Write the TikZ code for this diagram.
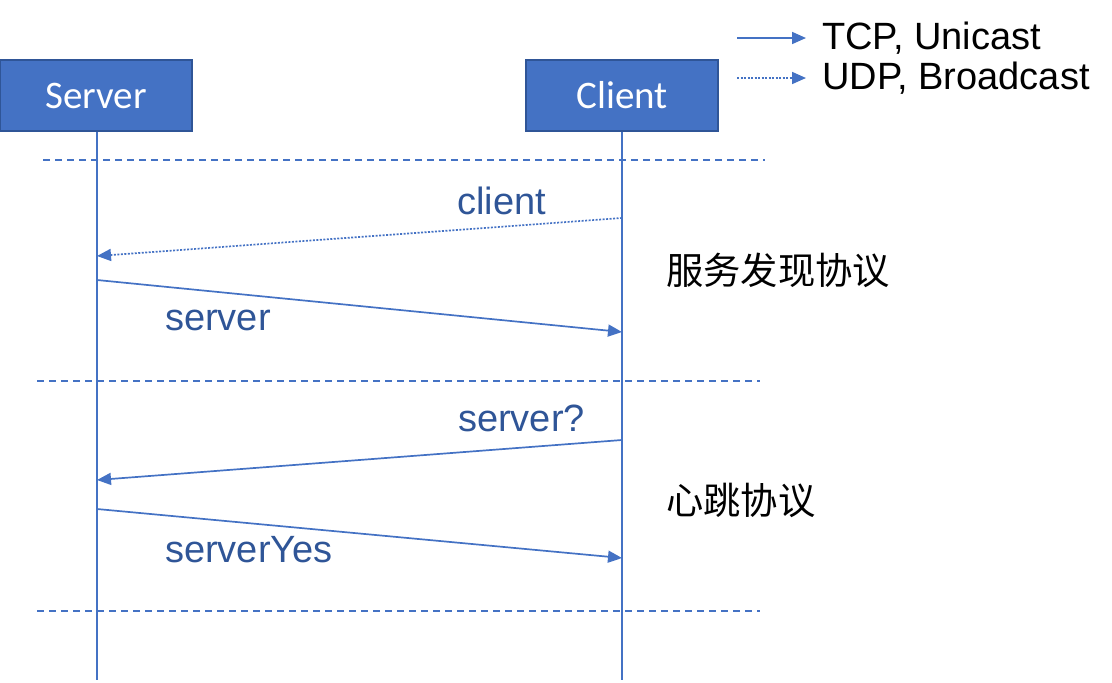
\documentclass[tikz,border=0pt]{standalone}
\usepackage{fontspec}
\setmainfont{Liberation Sans}
\newfontfamily\boxfont{Carlito}
\newfontfamily\cjk{Noto Sans CJK SC}
\usetikzlibrary{arrows.meta}
\definecolor{lineblue}{HTML}{4472C4}
\definecolor{darkblue}{HTML}{2F5597}
\begin{document}
\begin{tikzpicture}[x=1pt,y=-1pt,
  actor/.style={draw=darkblue,line width=1.5pt,fill=lineblue,minimum width=192pt,minimum height=71pt,inner sep=0pt,text=white,font=\boxfont\fontsize{39}{42}\selectfont},
  life/.style={draw=lineblue,line width=2pt},
  sep/.style={draw=lineblue,line width=1.3pt,dash pattern=on 7pt off 5pt},
  msg/.style={draw=lineblue,line width=1.7pt,-{Triangle[length=14pt,width=12pt]}},
  bmsg/.style={msg,dash pattern=on 2pt off 1.5pt},
  lbl/.style={anchor=base west,inner sep=0pt,text=darkblue,font=\fontsize{38}{42}\selectfont},
  note/.style={anchor=base west,inner sep=0pt,text=black,font=\cjk\fontsize{37.3}{42}\selectfont},
  legtxt/.style={anchor=base west,inner sep=0pt,text=black,font=\fontsize{38}{42}\selectfont}]
\useasboundingbox (0,0) rectangle (1112,683);
% actors
\node[actor] (server) at (96,95.5) {Server};
\node[actor] (client) at (622,95.5) {Client};
\coordinate (send) at (97,680);
\coordinate (cend) at (622,680);
\draw[life] (server.south -| send) -- (send);
\draw[life] (client.south) -- (cend);
% separators
\coordinate (d1a) at (43,160); \coordinate (d1b) at (765,160);
\coordinate (d2a) at (37,381); \coordinate (d2b) at (760,381);
\coordinate (d3a) at (37,611); \coordinate (d3b) at (760,611);
\draw[sep] (d1a) -- (d1b);
\draw[sep] (d2a) -- (d2b);
\draw[sep] (d3a) -- (d3b);
% message points
\coordinate (c1) at (622,218); \coordinate (s1) at (97,256);
\coordinate (s2) at (97,280); \coordinate (c2) at (622,332);
\coordinate (c3) at (622,440); \coordinate (s3) at (97,480);
\coordinate (s4) at (97,509); \coordinate (c4) at (622,558);
\draw[bmsg] (c1) -- (s1);
\draw[msg] (s2) -- (c2);
\draw[msg] (c3) -- (s3);
\draw[msg] (s4) -- (c4);
% labels
\node[lbl] (lclient) at (457,214) {client};
\node[lbl] (lserver) at (165,330) {server};
\node[lbl] (lserverq) at (458,431) {server?};
\node[lbl] (lyes) at (165,562) {serverYes};
\node[note] (n1) at (666,284) {服务发现协议};
\node[note] (n2) at (666,514) {心跳协议};
% legend
\coordinate (la1) at (737,38); \coordinate (lb1) at (806,38);
\coordinate (la2) at (737,78); \coordinate (lb2) at (806,78);
\draw[msg] (la1) -- (lb1);
\draw[bmsg] (la2) -- (lb2);
\node[legtxt] (tcp) at (822,49) {TCP, Unicast};
\node[legtxt] (udp) at (822,89) {UDP, Broadcast};
\end{tikzpicture}
\end{document}
